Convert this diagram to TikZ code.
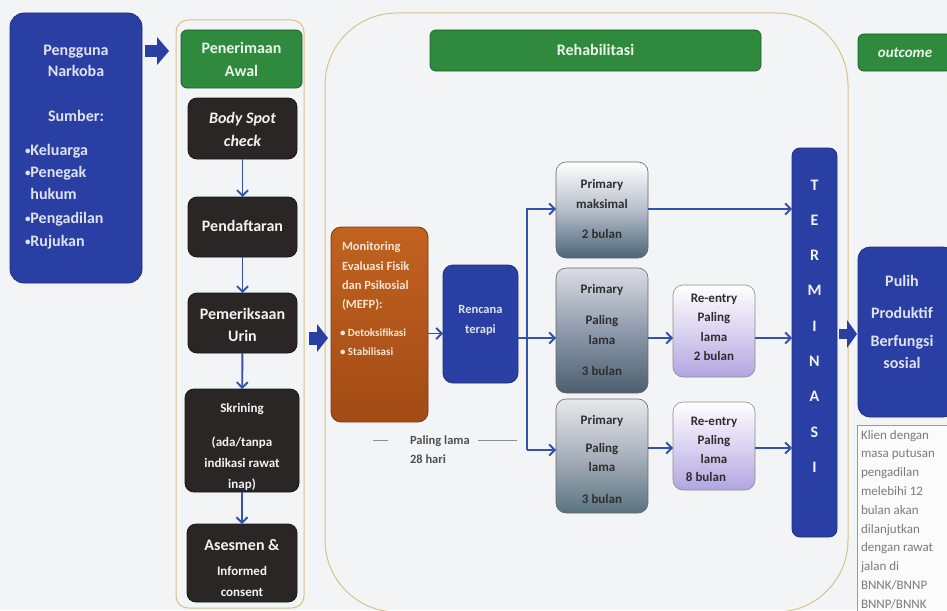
\documentclass[tikz,border=0pt]{standalone}
\usepackage{fontspec}
\setmainfont{Carlito}
\usetikzlibrary{arrows.meta}
\definecolor{bgc}{HTML}{F3F4F6}
\definecolor{nblue}{HTML}{2A3FA3}
\definecolor{nblueD}{HTML}{1E2F80}
\definecolor{nblack}{HTML}{2B2626}
\definecolor{nblackD}{HTML}{1A1616}
\definecolor{ngreen}{HTML}{2F8A3E}
\definecolor{ngreenD}{HTML}{1F5E2A}
\definecolor{ctan}{HTML}{D8C28E}
\definecolor{conc}{HTML}{3450B0}
\definecolor{orgT}{HTML}{C1621F}
\definecolor{orgB}{HTML}{A34B16}
\definecolor{orgD}{HTML}{7A3A12}
\definecolor{slA}{HTML}{4A6577}
\definecolor{slAm}{HTML}{B7BECB}
\definecolor{slBt}{HTML}{DCDDE4}
\definecolor{slBm}{HTML}{8E9AAB}
\definecolor{slB}{HTML}{4C5F70}
\definecolor{slCt}{HTML}{E8E8EA}
\definecolor{slCm}{HTML}{A8B0BC}
\definecolor{slC}{HTML}{5A7380}
\definecolor{lav}{HTML}{B2A5E0}
\definecolor{lavm}{HTML}{DAD3F0}
\definecolor{ltxt}{HTML}{DEE2F1}
\definecolor{wtxt}{HTML}{F2F2F2}
\definecolor{gtxt}{HTML}{E9F4EA}
\definecolor{otxt}{HTML}{F6E6D6}
\definecolor{dtxt}{HTML}{2E2E2E}
\definecolor{ntxt}{HTML}{7B7B7B}
\definecolor{ptxt}{HTML}{505050}
\newcommand\mylines[4]{\foreach \yy/\ss [count=\ii] in {#4}{\node[#2] (#1\ii) at (#3,\yy) {\ss};}}
\newcommand\sbul{{\fontsize{11}{13}\selectfont\raisebox{1pt}{•}}}
\begin{document}
\begin{tikzpicture}[x=1pt,y=-1pt,
  box/.style={rectangle, inner sep=0pt, outer sep=0pt, rounded corners=#1},
  box/.default=8pt,
  tx/.style={anchor=base, inner sep=0pt, outer sep=0pt},
  f16/.style={font=\fontsize{16}{19}\selectfont\bfseries},
  f13/.style={font=\fontsize{13}{16}\selectfont\bfseries},
  f12/.style={font=\fontsize{12.5}{15}\selectfont\bfseries},
  f11/.style={font=\fontsize{11}{13}\selectfont\bfseries},
  fn/.style={font=\fontsize{13}{16}\selectfont},
  bluebox/.style={box=#1, fill=nblue, draw=nblueD, line width=0.8pt},
  blackbox/.style={box=9pt, fill=nblack, draw=nblackD, line width=0.8pt},
  greenbox/.style={box=6pt, fill=ngreen, draw=ngreenD, line width=0.8pt},
  prim/.style={box=10pt, draw=black!60, line width=0.6pt},
  reent/.style={box=10pt, draw=black!45, line width=0.6pt, top color=white, bottom color=lav, middle color=lavm},
  cont/.style={box=#1, draw=ctan, line width=1pt},
  conn/.style={draw=conc, line width=1.9pt, -{Straight Barb[length=5.5pt,width=11pt]}},
  barr/.style={draw=nblue, -{Triangle[length=#1,width=28pt,line width=0pt]}},
]
\useasboundingbox (0,0) rectangle (947,610);
\clip (0,0) rectangle (947,610);
\fill[bgc] (0,0) rectangle (947,610);

% ---------- left: users ----------
\node[bluebox=14pt, minimum width=132pt, minimum height=270pt] (peng) at (76,148) {};
\mylines{pgt}{tx,f16,text=ltxt}{76}{56/Pengguna,77/Narkoba,121/Sumber:}
\mylines{pgl}{tx,f16,text=ltxt,anchor=base west}{25}{155/\sbul Keluarga,177/\sbul Penegak,199/\phantom{\sbul}hukum,223/\sbul Pengadilan,246/\sbul Rujukan}

% ---------- left container ----------
\node[cont=12pt, minimum width=128pt, minimum height=588pt] (lc) at (240,314) {};
\node[greenbox, minimum width=121pt, minimum height=58pt] (pa) at (241.5,59) {};
\mylines{pat}{tx,f16,text=gtxt}{241.5}{54/Penerimaan,77/Awal}
\node[blackbox, minimum width=109pt, minimum height=61pt] (bsc) at (242.5,128.5) {};
\mylines{bst}{tx,text=wtxt,font=\fontsize{16}{19}\selectfont\bfseries\itshape}{242.5}{123/Body Spot,146/check}
\node[blackbox, minimum width=109pt, minimum height=60pt] (daf) at (242.5,227) {};
\mylines{dft}{tx,f16,text=wtxt}{242.5}{231/Pendaftaran}
\node[blackbox, minimum width=109pt, minimum height=60pt] (urin) at (242.5,323) {};
\mylines{urt}{tx,f16,text=wtxt}{242.5}{319/Pemeriksaan,341/Urin}
\node[blackbox, minimum width=114pt, minimum height=103pt] (skr) at (242,440.5) {};
\mylines{skt}{tx,f13,text=wtxt}{242}{412/Skrining,446/(ada\slash tanpa,467/indikasi rawat,488/inap)}
\node[blackbox, minimum width=110pt, minimum height=78pt] (ase) at (242,563) {};
\mylines{ast}{tx,f16,text=wtxt}{242}{550/Asesmen \&}
\mylines{asu}{tx,f13,text=wtxt}{242}{575/Informed,596/consent}

\draw[conn] (bsc) -- (daf);
\draw[conn] (daf) -- (urin);
\draw[conn] (urin) -- (skr);
\draw[conn] (skr) -- (ase);

% ---------- rehabilitation container ----------
\node[cont=72pt, minimum width=523pt, minimum height=599pt] (rc) at (586.5,312.5) {};
\node[greenbox, minimum width=331pt, minimum height=41pt] (rb) at (595.5,50.5) {};
\node[tx,f16,text=gtxt] (rbt) at (595.5,56) {Rehabilitasi};

\node[box=10pt, top color=orgT, bottom color=orgB, draw=orgD, line width=0.8pt, minimum width=97pt, minimum height=195pt] (mefp) at (379.5,324.5) {};
\mylines{mft}{tx,f12,text=otxt,anchor=base west}{342}{250/Monitoring,270/Evaluasi Fisik,289/dan Psikosial,308/(MEFP):}
\mylines{mfb}{tx,f11,text=otxt,anchor=base west}{340}{336/• Detoksifikasi,355/• Stabilisasi}

\node[bluebox=10pt, minimum width=75pt, minimum height=118pt] (ren) at (480.5,324) {};
\mylines{rnt}{tx,f12,text=ltxt}{480.5}{313/Rencana,333/terapi}

\node[tx,f12,text=ptxt,anchor=base west] (pl1) at (410,444) {Paling lama};
\node[tx,f12,text=ptxt,anchor=base west] (pl2) at (410,463) {28 hari};
\draw[black!45, line width=0.6pt] ([xshift=-22pt]pl1.west) -- ([xshift=-37pt]pl1.west);
\draw[black!45, line width=0.6pt] ([xshift=8pt]pl1.east) -- ([xshift=47pt]pl1.east);

% primary boxes
\node[prim, top color=white, bottom color=slA, middle color=slAm, minimum width=92pt, minimum height=96pt] (p1) at (602,210) {};
\mylines{p1t}{tx,f13,text=dtxt}{602}{188/Primary,208/maksimal,238/2 bulan}
\node[prim, top color=slBt, bottom color=slB, middle color=slBm, minimum width=92pt, minimum height=125pt] (p2) at (602,330.5) {};
\mylines{p2t}{tx,f13,text=dtxt}{602}{293/Primary,324/Paling,344/lama,375/3 bulan}
\node[prim, top color=slCt, bottom color=slC, middle color=slCm, minimum width=92pt, minimum height=114pt] (p3) at (602,456) {};
\mylines{p3t}{tx,f13,text=dtxt}{602}{424/Primary,452/Paling,471/lama,503/3 bulan}

% re-entry boxes
\node[reent, minimum width=82pt, minimum height=92pt] (r1) at (714,331) {};
\mylines{r1t}{tx,f13,text=dtxt}{714}{302/Re-entry,321/Paling,341/lama,360/2 bulan}
\node[reent, minimum width=82pt, minimum height=88pt] (r2) at (714,446) {};
\mylines{r2t}{tx,f13,text=dtxt}{714}{425/Re-entry,444/Paling,463/lama}
\node[tx,f13,text=dtxt] (r2t4) at (706,481) {8 bulan};

% terminasi
\node[bluebox=8pt, minimum width=45pt, minimum height=389pt] (term) at (814.5,342.5) {};
\foreach \L [count=\i] in {T,E,R,M,I,N,A,S,I}
  \node[tx,f16,text=wtxt] (tm\i) at (814.5,{154.7+35.3*\i}) {\L};

% branch connectors
\coordinate (bt) at (527,209);
\coordinate (bb) at (527,450);
\draw[conn] ([yshift=-9pt]mefp.east) -- ([yshift=-9pt]mefp.east -| ren.west);
\draw[conn] ([yshift=-14pt]ren.east) -- ([yshift=-14pt]ren.east -| p2.west);
\draw[conn] (bb) -- (bt) -- (bt -| p1.west);
\draw[conn] (bb) -- (bb -| p3.west);
\draw[conn] (p1.east |- bt) -- (bt -| term.west);
\draw[conn] ([yshift=-7.5pt]p2.east) -- ([yshift=-7.5pt]p2.east -| r1.west);
\draw[conn] ([yshift=-7pt]r1.east) -- ([yshift=-7pt]r1.east -| term.west);
\draw[conn] ([yshift=-2pt]r2.west -| p3.east) -- ([yshift=-2pt]r2.west);
\draw[conn] ([yshift=-2pt]r2.east) -- ([yshift=-2pt]r2.east -| term.west);

% ---------- outcome ----------
\node[greenbox, minimum width=94pt, minimum height=37pt] (outc) at (905,52.5) {};
\node[tx,text=gtxt,font=\fontsize{15}{18}\selectfont\bfseries\itshape] (outt) at (905,58) {outcome};
\node[bluebox=12pt, minimum width=97pt, minimum height=170pt] (pulih) at (906.5,332) {};
\mylines{put}{tx,f16,text=ltxt}{902}{286/Pulih,318/Produktif,346/Berfungsi,368/sosial}
\node[rectangle, draw=black!40, fill=white!97!gray, line width=0.6pt, minimum width=98pt, minimum height=192pt, inner sep=0pt] (note) at (906,521) {};
\mylines{ntt}{tx,fn,text=ntxt,anchor=base west}{861}{439/Klien dengan,457.8/masa putusan,476.6/pengadilan,495.4/melebihi 12,514.2/bulan akan,533/dilanjutkan,551.8/dengan rawat,570.6/jalan di,589.4/BNNK\slash BNNP,608.2/BNNP\slash BNNK}

% ---------- block arrows ----------
\coordinate (ba1) at ([yshift=8pt]pa.west);
\draw[barr=12pt, line width=12pt, shorten <=3pt, shorten >=12pt] (peng.east |- ba1) -- (ba1);
\coordinate (ba2) at ([yshift=-13.5pt]mefp.west);
\draw[barr=11pt, line width=13pt, shorten <=5pt, shorten >=3pt] (lc.east |- ba2) -- (ba2);
\coordinate (ba3) at ([yshift=-2pt]pulih.west);
\draw[barr=10pt, line width=10pt, shorten <=2pt, shorten >=1pt] (term.east |- ba3) -- (ba3);
\end{tikzpicture}
\end{document}
